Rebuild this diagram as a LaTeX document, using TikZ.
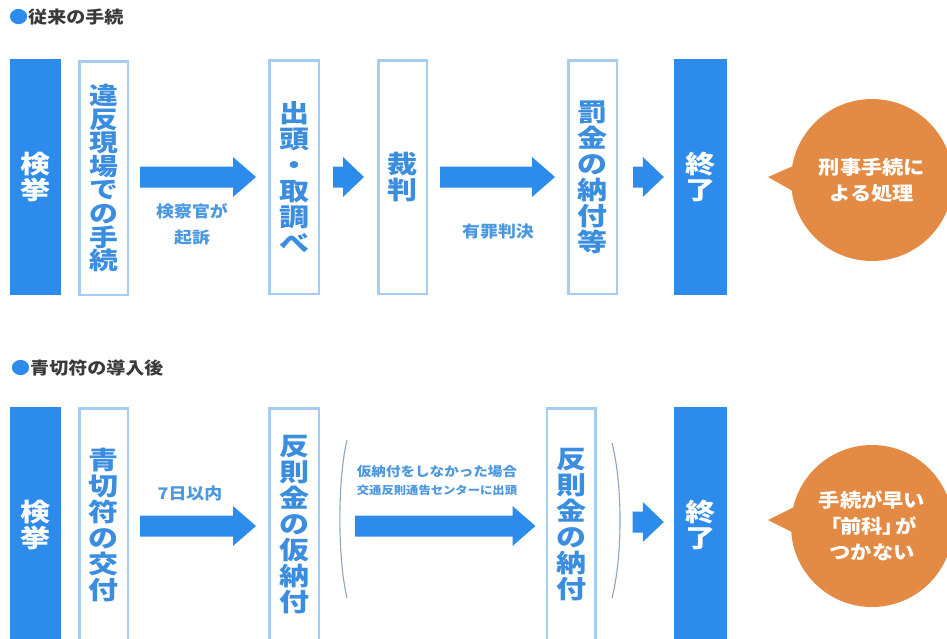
\documentclass[tikz,border=0pt]{standalone}
\usepackage{fontspec}
\setmainfont{Noto Sans CJK JP}[FakeStretch=1.12]
\newfontfamily\jp{Noto Sans CJK JP}[FakeStretch=1.12]
\newfontfamily\jpw{Noto Sans CJK JP}[FakeStretch=1.2]
\usetikzlibrary{calc}
\definecolor{fillblue}{HTML}{2D8CEB}
\definecolor{outline}{HTML}{A6CCF0}
\definecolor{boxtext}{HTML}{3B8DE0}
\definecolor{labeltext}{HTML}{4B97E0}
\definecolor{bubble}{HTML}{E38A45}
\definecolor{titlegray}{HTML}{3A3A3A}
\definecolor{parengray}{HTML}{8FA5B8}
\newcommand\blockarrow[3]{%
  \fill[fillblue] let \p1=(#1), \p2=(#2) in
    (\x1,\y1+10.5pt) -- (\x2-#3,\y1+10.5pt) -- (\x2-#3,\y1+20pt) -- (\x2,\y1)
    -- (\x2-#3,\y1-20pt) -- (\x2-#3,\y1-10.5pt) -- (\x1,\y1-10.5pt) -- cycle;}
\tikzset{
  solidbox/.style={fill=fillblue, minimum width=51pt, minimum height=236pt,
    inner sep=0pt, text=white, align=center,
    font=\jpw\bfseries\fontsize{25}{26}\selectfont},
  linebox/.style={draw=outline, line width=2.5pt, fill=white,
    minimum width=48.5pt, minimum height=233.5pt, inner sep=0pt,
    text=boxtext, align=center,
    font=\jpw\bfseries\fontsize{25}{26}\selectfont},
  tightbox/.style={linebox, font=\jpw\bfseries\fontsize{24}{23.6}\selectfont},
  title/.style={anchor=west, inner sep=0pt, text=titlegray,
    font=\jp\bfseries\fontsize{17}{20}\selectfont},
  label/.style={inner sep=0pt, text=labeltext, align=center,
    font=\jp\bfseries\fontsize{16}{26}\selectfont},
  bubblenode/.style={circle, fill=bubble, minimum size=162pt, inner sep=0pt,
    text=white, align=center, font=\jp\bfseries\fontsize{19}{26}\selectfont},
  paren/.style={draw=parengray, line width=1.1pt}
}
\begin{document}
\begin{tikzpicture}[x=1pt,y=-1pt]
\useasboundingbox (0,0) rectangle (947,638);
\clip (0,0) rectangle (947,638);

% titles
\node[title] (t1) at (9,17) {{\color{fillblue}●}従来の手続};
\node[title] (t2) at (11,368) {{\color{fillblue}●}青切符の導入後};

% ---------- row 1 ----------
\node[solidbox] (k1) at (35.5,177) {検\\挙};
\node[tightbox] (b1) at (103.5,178) {違\\反\\現\\場\\で\\の\\手\\続};
\node[linebox,minimum width=49.5pt] (b2) at (294,177) {出\\頭\\・\\取\\調\\べ};
\node[linebox] (b3) at (402.5,177) {裁\\判};
\node[linebox] (b4) at (592.5,177) {罰\\金\\の\\納\\付\\等};
\node[solidbox,minimum width=53pt] (e1) at (700.5,177) {終\\了};

\coordinate (a1s) at ($(b1.east)+(11,-1)$);
\coordinate (a1e) at ($(b2.west)+(-12,0)$);
\coordinate (a2s) at ($(b2.east)+(13,0)$);
\coordinate (a2e) at ($(b3.west)+(-13,0)$);
\coordinate (a3s) at ($(b3.east)+(12,0)$);
\coordinate (a3e) at ($(b4.west)+(-12,0)$);
\coordinate (a4s) at ($(b4.east)+(15,0)$);
\coordinate (a4e) at ($(e1.west)+(-10,0)$);
\blockarrow{a1s}{a1e}{23pt}
\blockarrow{a2s}{a2e}{21pt}
\blockarrow{a3s}{a3e}{23pt}
\blockarrow{a4s}{a4e}{21pt}

\node[label] (l1) at (192,224) {検察官が\\起訴};
\node[label] (l2) at (498,232) {有罪判決};

\node[bubblenode] (c1) at (872,180) {刑事手続に\\よる処理};
\coordinate (c1tip) at (768,177);
\fill[bubble] (c1tip) -- ($(c1.center)+(-72,-17)$) -- ($(c1.center)+(-72,15)$) -- cycle;

% ---------- row 2 ----------
\node[solidbox] (k2) at (35.5,525) {検\\挙};
\node[linebox] (d1) at (103.5,525) {青\\切\\符\\の\\交\\付};
\node[linebox,minimum width=49.5pt] (d2) at (294,525) {反\\則\\金\\の\\仮\\納\\付};
\node[linebox] (d3) at (571,525) {反\\則\\金\\の\\納\\付};
\node[solidbox,minimum width=53pt] (e2) at (700.5,525) {終\\了};

\coordinate (b1s) at ($(d1.east)+(11,1)$);
\coordinate (b1e) at ($(d2.west)+(-12,1)$);
\coordinate (b2s) at ($(d2.east)+(35,1)$);
\coordinate (b2e) at ($(d3.west)+(-10,1)$);
\coordinate (b3s) at ($(d3.east)+(36,-3)$);
\coordinate (b3e) at ($(e2.west)+(-10,-3)$);
\blockarrow{b1s}{b1e}{23pt}
\blockarrow{b2s}{b2e}{23pt}
\blockarrow{b3s}{b3e}{21pt}

\node[label] (l3) at (190,493) {7日以内};
\node[label, font=\jp\bfseries\fontsize{13}{18}\selectfont] (l4) at (437,472) {仮納付をしなかった場合};
\node[label, font=\jp\bfseries\fontsize{11}{14}\selectfont] (l5) at (437,490) {交通反則通告センターに出頭};

\draw[paren] (347,440) .. controls (337.5,480) and (337.5,558) .. (347,598);
\draw[paren] (612,443) .. controls (622.7,485) and (622.7,556) .. (612,598);

\node[bubblenode] (c2) at (872,526) {手続が早い\\\kern-0.35em「\kern-0.05em前科\kern-0.05em」\kern-0.4emが\\つかない};
\coordinate (c2tip) at (768,520);
\fill[bubble] (c2tip) -- ($(c2.center)+(-72,-22)$) -- ($(c2.center)+(-72,10)$) -- cycle;
\end{tikzpicture}
\end{document}
